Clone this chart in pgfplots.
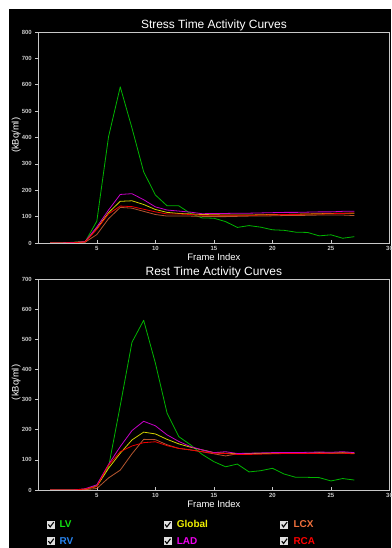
\documentclass[border=0pt]{standalone}
\usepackage{fontspec}
\setmainfont{Liberation Sans}
\usepackage{pgfplots}
\usepackage{pgfplotstable}
\pgfplotsset{compat=1.18}

\definecolor{axgray}{HTML}{C8C8C8}
\definecolor{cLV}{HTML}{00B400}
\definecolor{cRV}{HTML}{1E78E6}
\definecolor{cGlobal}{HTML}{D2D200}
\definecolor{cLAD}{HTML}{C800C8}
\definecolor{cLCX}{HTML}{B4552F}
\definecolor{cRCA}{HTML}{F00000}
\definecolor{tLV}{HTML}{10E010}
\definecolor{tRV}{HTML}{2884F0}
\definecolor{tGlobal}{HTML}{F0F000}
\definecolor{tLAD}{HTML}{F000F0}
\definecolor{tLCX}{HTML}{F0703C}
\definecolor{tRCA}{HTML}{FF0000}

\pgfplotstableread{
f LV RV Global LAD LCX RCA
1 0 0 0 0 0 0
2 0 0 0 0 0 0
3 3 0 2 2 1 1
4 4 0 5 5 3 4
5 83 0 55 61 32 52
6 403 0 115 125 92 110
7 592 0 158 184 135 140
8 436 0 160 187 132 138
9 270 0 146 164 120 128
10 182 0 127 137 108 118
11 141 0 116 125 102 110
12 141 0 112 121 102 110
13 112 0 110 117 102 108
14 95 0 108 111 101 105
15 94 0 107 112 100 105
16 81 0 106 112 100 105
17 59 0 106 113 101 105
18 66 0 106 113 102 105
19 60 0 107 114 102 106
20 50 0 108 115 103 107
21 48 0 108 116 104 108
22 41 0 109 116 104 108
23 40 0 110 117 105 110
24 27 0 111 118 106 110
25 31 0 112 118 106 111
26 18 0 113 120 106 112
27 24 0 113 120 104 114
}\stresstable

\pgfplotstableread{
f LV RV Global LAD LCX RCA
1 0 0 0 0 0 0
2 0 0 0 0 0 0
3 0 0 0 0 0 0
4 2 0 3 4 1 3
5 15 0 12 17 5 12
6 76 0 72 85 40 82
7 280 0 122 144 66 127
8 490 0 166 197 120 146
9 563 0 192 228 168 157
10 421 0 186 213 167 160
11 255 0 168 183 150 147
12 177 0 153 161 138 138
13 150 0 142 144 133 133
14 118 0 133 133 127 127
15 94 0 124 124 120 122
16 77 0 122 127 113 121
17 86 0 121 121 120 118
18 60 0 121 122 120 118
19 64 0 122 123 121 119
20 72 0 122 124 122 120
21 53 0 122 124 122 121
22 42 0 122 124 123 121
23 42 0 122 125 122 121
24 41 0 123 126 124 121
25 30 0 123 125 122 122
26 38 0 123 127 124 122
27 33 0 122 124 121 120
}\resttable

\pgfplotsset{
  tac/.style={
    scale only axis, width=351.2bp, height=211bp,
    xmin=0, xmax=30, ymin=0,
    axis background/.style={fill=black},
    axis line style={draw=axgray, line width=0.7pt},
    tick style={draw=axgray, line width=0.6pt},
    major tick length=3bp,
    xtick={5,10,...,30},
    xtick align=inside, ytick align=outside,
    xtick pos=bottom, ytick pos=left,
    tick label style={font=\fontsize{6}{7}\selectfont\bfseries, text=axgray},
    /pgf/number format/assume math mode=true,
    every axis title/.style={at={(axis description cs:0.5,1)}, anchor=base, yshift=3.7bp, font=\fontsize{12}{14}\selectfont, text=white},
    every axis x label/.style={at={(axis description cs:0.5,0)}, anchor=base, yshift=-17.7bp, font=\fontsize{9.5}{11}\selectfont, text=white},
    every axis y label/.style={at={(axis description cs:-0.063,0.51)}, anchor=center, rotate=90, font=\fontsize{9.5}{11}\selectfont, text=white},
    xlabel={Frame Index}, ylabel={(kBq/ml)},
    every axis plot/.append style={line width=0.8pt, line join=round},
  }
}

\begin{document}
\begin{tikzpicture}[x=1bp,y=1bp]
\path[use as bounding box] (0,0) rectangle (391,548);
\fill[white] (0,0) rectangle (391,548);
\fill[black] (9,0) rectangle (391,539);

% Stress
\begin{axis}[tac, at={(38.3bp,305bp)}, anchor=south west,
  ymax=800, ytick={0,100,...,800},
  title={Stress Time Activity Curves}]
\addplot[cLV] table[x=f,y=LV] {\stresstable};
\addplot[cRV] table[x=f,y=RV] {\stresstable};
\addplot[cLCX] table[x=f,y=LCX] {\stresstable};
\addplot[cGlobal] table[x=f,y=Global] {\stresstable};
\addplot[cLAD] table[x=f,y=LAD] {\stresstable};
\addplot[cRCA] table[x=f,y=RCA] {\stresstable};
\end{axis}

% Rest
\begin{axis}[tac, at={(38.3bp,58bp)}, anchor=south west,
  ymax=700, ytick={0,100,...,700},
  title={Rest Time Activity Curves}]
\addplot[cLV] table[x=f,y=LV] {\resttable};
\addplot[cRV] table[x=f,y=RV] {\resttable};
\addplot[cLCX] table[x=f,y=LCX] {\resttable};
\addplot[cGlobal] table[x=f,y=Global] {\resttable};
\addplot[cLAD] table[x=f,y=LAD] {\resttable};
\addplot[cRCA] table[x=f,y=RCA] {\resttable};
\end{axis}

% Legend (check boxes)
\foreach \cx/\cy in {51/23.3, 167.7/23.3, 284.3/23.3, 51/6.7, 167.7/6.7, 284.3/6.7}{
  \fill[gray!25] (\cx-4,\cy-3.9) rectangle (\cx+4,\cy+3.9);
  \draw[black, line width=1.1pt] (\cx-2.6,\cy+0.2) -- (\cx-0.8,\cy-2.2) -- (\cx+2.8,\cy+2.6);
}
\node[anchor=base west, inner sep=0, text=tLV, font=\fontsize{10}{12}\selectfont\bfseries] at (59.3,20.3) {LV};
\node[anchor=base west, inner sep=0, text=tRV, font=\fontsize{10}{12}\selectfont\bfseries] at (59.3,3.7) {RV};
\node[anchor=base west, inner sep=0, text=tGlobal, font=\fontsize{10}{12}\selectfont\bfseries] at (176.7,20.3) {Global};
\node[anchor=base west, inner sep=0, text=tLAD, font=\fontsize{10}{12}\selectfont\bfseries] at (176.7,3.7) {LAD};
\node[anchor=base west, inner sep=0, text=tLCX, font=\fontsize{10}{12}\selectfont\bfseries] at (293.3,20.3) {LCX};
\node[anchor=base west, inner sep=0, text=tRCA, font=\fontsize{10}{12}\selectfont\bfseries] at (293.3,3.7) {RCA};
\end{tikzpicture}
\end{document}
